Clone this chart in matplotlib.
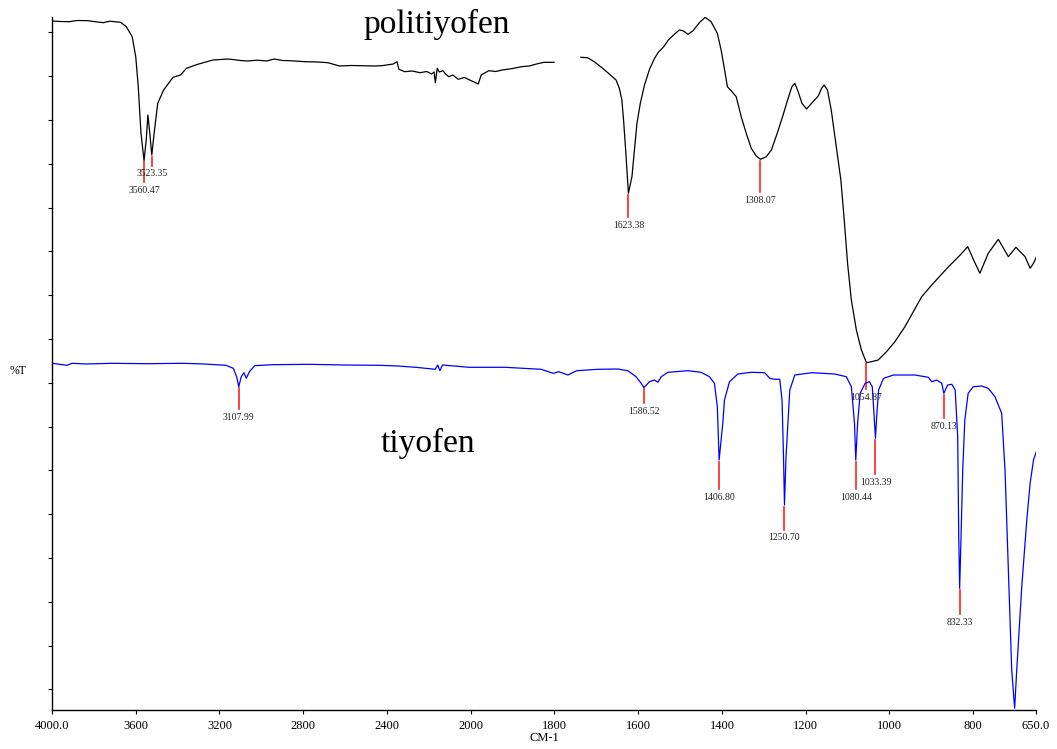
#!/usr/bin/env python3
"""
FTIR spectra: politiyofen (black) vs tiyofen (blue), with peak picks.
"""

import matplotlib
matplotlib.use('Agg')
import matplotlib.pyplot as plt
import numpy as np

# --- politiyofen, first segment (4000 - 1800 cm-1) ---
poly1_wn = [3998, 3960, 3919, 3880, 3828, 3790, 3755, 3725, 3700, 3672, 3645, 3617,
            3600, 3588, 3575, 3560.47, 3550, 3542, 3533, 3523.35, 3512, 3495, 3467,
            3422, 3386, 3358, 3304, 3231, 3158, 3100, 3066, 3020, 2975, 2938, 2900,
            2864, 2791, 2730, 2682, 2627, 2570, 2517, 2460, 2425, 2370, 2352, 2343,
            2315, 2280, 2242, 2210, 2187, 2175, 2169, 2160, 2150, 2133, 2120, 2105,
            2085, 2060, 2030, 2005, 1982, 1975, 1957, 1940, 1925, 1900, 1879, 1860,
            1843, 1825, 1801]
poly1_t = [77.9, 77.85, 77.83, 77.95, 77.93, 77.82, 77.73, 77.88, 77.83, 77.77, 77.33, 76.33,
           74.33, 71.33, 66.7, 63.93, 66.0, 68.5, 66.7, 64.5, 66.7, 69.67, 71.0,
           72.27, 72.5, 73.17, 73.57, 74.0, 74.1, 73.95, 73.9, 73.98, 73.9, 74.1, 73.95,
           73.93, 73.83, 73.8, 73.73, 73.4, 73.45, 73.43, 73.4, 73.43, 73.6, 73.83, 73.07,
           72.83, 72.9, 72.73, 72.85, 72.6, 72.8, 71.73, 73.17, 72.8, 72.93, 72.6, 72.33,
           72.5, 72.07, 72.25, 72.0, 71.6, 72.5, 72.93, 72.85, 73.0, 73.15, 73.33, 73.4,
           73.6, 73.77, 73.77]

# --- politiyofen, second segment (1740 - 650 cm-1) ---
poly2_wn = [1737, 1721, 1705, 1685, 1669, 1653, 1645, 1639, 1635, 1630, 1626, 1623.38,
            1615, 1609, 1603, 1595, 1585, 1573, 1561, 1552, 1539, 1528, 1513, 1502,
            1493, 1481, 1469, 1454, 1440, 1426, 1411, 1402, 1395, 1387, 1376, 1366,
            1354, 1342, 1330, 1318, 1308.07, 1294, 1282, 1268, 1254, 1242, 1233, 1226,
            1218, 1209, 1198, 1186, 1170, 1162, 1156, 1148, 1139, 1127, 1116, 1108,
            1100, 1091, 1079, 1067, 1054.87, 1043, 1027, 1007, 987, 971, 963, 923, 899,
            859, 835, 813, 799, 784, 764, 740, 716, 698, 676, 664, 656, 648]
poly2_t = [74.27, 74.23, 73.83, 73.17, 72.6, 72.0, 71.17, 70.0, 68.0, 65.0, 62.33, 60.67,
           62.33, 65.0, 67.67, 69.67, 71.5, 73.07, 74.17, 74.77, 75.33, 76.0, 76.6, 77.0,
           76.93, 76.57, 76.93, 77.73, 78.27, 77.83, 76.67, 75.0, 73.33, 71.33, 70.83, 70.33,
           68.33, 66.67, 65.17, 64.4, 64.07, 64.33, 65.0, 66.67, 68.5, 70.17, 71.33, 71.67,
           70.83, 69.67, 69.1, 69.67, 70.4, 71.17, 71.5, 71.0, 69.0, 65.33, 62.0, 58.0,
           53.67, 50.0, 47.0, 45.0, 43.73, 43.83, 44.0, 44.83, 45.83, 46.83, 47.33, 50.33, 51.5,
           53.33, 54.33, 55.33, 54.0, 52.67, 54.67, 56.07, 54.33, 55.27, 54.33, 53.17, 53.67, 54.4]

# --- tiyofen ---
thio_wn = [3998, 3929, 3904, 3837, 3718, 3545, 3373, 3273, 3169, 3134, 3118, 3107.99,
           3096, 3083, 3072, 3057, 3032, 2947, 2776, 2605, 2435, 2349, 2263, 2169, 2158,
           2147, 2135, 2007, 1918, 1832, 1803, 1790, 1768, 1747, 1696, 1649, 1625, 1605,
           1593, 1586.52, 1573, 1561, 1553, 1545, 1529, 1481, 1450, 1430, 1418, 1411,
           1406.80, 1398, 1394, 1382, 1362, 1330, 1298, 1286, 1274, 1262, 1256.5, 1253,
           1250.70, 1247, 1238, 1226, 1186, 1131, 1103, 1091, 1083.5, 1080.44, 1076, 1070,
           1058, 1048, 1041, 1037, 1033.39, 1030, 1026, 1014, 990, 939, 907, 899, 887,
           875, 870.13, 861, 851, 843, 837, 834.5, 832.33, 829, 825, 820, 812, 800, 780,
           764, 748, 740, 732, 724, 716, 708, 701, 696, 684, 672, 664, 656, 648]
thio_t = [43.67, 43.47, 43.67, 43.6, 43.67, 43.63, 43.67, 43.6, 43.47, 43.17, 42.33, 41.33,
          42.33, 42.73, 42.17, 42.83, 43.43, 43.53, 43.57, 43.5, 43.47, 43.4, 43.27, 43.07, 43.5,
          42.93, 43.5, 43.27, 43.27, 43.07, 42.67, 42.83, 42.5, 42.93, 43.07, 43.1, 42.93, 42.33,
          41.67, 41.23, 41.83, 42.0, 41.77, 42.33, 42.77, 42.93, 42.77, 42.33, 41.67, 39.33,
          34.0, 37.67, 40.0, 41.83, 42.6, 42.77, 42.73, 42.17, 42.07, 42.07, 40.0, 34.33,
          29.5, 34.33, 41.0, 42.5, 42.73, 42.6, 42.33, 41.33, 37.67, 34.0, 37.67, 40.67,
          41.67, 41.83, 41.33, 38.67, 36.17, 38.67, 41.0, 42.17, 42.5, 42.5, 42.27, 41.83, 42.0,
          41.67, 40.67, 41.5, 41.57, 41.0, 36.33, 26.33, 21.17, 26.33, 33.0, 38.0, 40.67, 41.33, 41.4,
          41.17, 40.33, 39.5, 38.67, 33.0, 23.0, 13.0, 9.17, 13.0, 21.33, 28.0, 31.67, 34.0, 35.0]

poly_peaks = [3560.47, 3523.35, 1623.38, 1308.07, 1054.87]
thio_peaks = [3107.99, 1586.52, 1406.80, 1250.70, 1080.44, 1033.39, 870.13, 832.33]

x_ticks = [4000, 3600, 3200, 2800, 2400, 2000, 1800, 1600, 1400, 1200, 1000, 800, 650]
x_ticklabels = ['4000.0', '3600', '3200', '2800', '2400', '2000', '1800', '1600',
                '1400', '1200', '1000', '800', '650.0']

# stick lengths under each peak pick (layout only)
poly_stick = [2.0, 0.9, 2.2, 3.1, 2.5]
thio_stick = [2.1, 1.4, 2.7, 2.3, 2.7, 3.4, 2.3, 2.4]


def fwd(w):
    # instrument scale: expanded 2x below 2000 cm-1
    w = np.asarray(w, dtype=float)
    return np.where(w >= 2000, w, 2 * w - 2000)


def inv(u):
    u = np.asarray(u, dtype=float)
    return np.where(u >= 2000, u, (u + 2000) / 2)


def peak_value(peak, wn, t):
    order = np.argsort(wn)
    return np.interp(peak, np.asarray(wn)[order], np.asarray(t)[order])


def mark_peaks(ax, peaks, sticks, wn, t):
    for p, s in zip(peaks, sticks):
        top = peak_value(p, wn, t) - 0.15
        ax.plot([p, p], [top, top - s], color='#ff2020', lw=1.2, zorder=1)
        ax.text(p, top - s - 0.85, f'{p:.2f}', ha='center', va='center',
                fontsize=7, color='#222222')


plt.rcParams['font.family'] = ['Liberation Serif', 'DejaVu Serif']

fig = plt.figure(figsize=(10.57, 7.49), dpi=100)
ax = fig.add_axes([52 / 1057, 39 / 749, (1036 - 52) / 1057, (710 - 17) / 749])

ax.set_xscale('function', functions=(fwd, inv))
ax.set_xlim(4000, 650)
ax.set_ylim(9.0, 78.3)

poly_wn = poly1_wn + [np.nan] + poly2_wn
poly_t = poly1_t + [np.nan] + poly2_t
ax.plot(poly_wn, poly_t, color='black', lw=0.9, zorder=2)
ax.plot(thio_wn, thio_t, color='#0000ff', lw=0.9, zorder=2)

mark_peaks(ax, poly_peaks, poly_stick, poly1_wn + poly2_wn, poly1_t + poly2_t)
mark_peaks(ax, thio_peaks, thio_stick, thio_wn, thio_t)

ax.set_xticks(x_ticks)
ax.set_xticklabels(x_ticklabels, fontsize=9)
ax.xaxis.set_minor_locator(plt.NullLocator())
ax.set_yticks(np.arange(11.07, 78, 4.38))
ax.set_yticklabels([])
ax.tick_params(axis='x', direction='out', length=3, width=0.8, pad=4)
ax.tick_params(axis='y', direction='out', length=3, width=0.8)
ax.spines['top'].set_visible(False)
ax.spines['right'].set_visible(False)
ax.spines['left'].set_linewidth(1.0)
ax.spines['bottom'].set_linewidth(1.0)
ax.set_xlabel('CM-1', fontsize=9, labelpad=0)

fig.text(18 / 1057, 1 - 371 / 749, '%T', fontsize=8.5, va='center', ha='center')
fig.text(437 / 1057, 1 - 24 / 749, 'politiyofen', fontsize=24, ha='center', va='center')
fig.text(428 / 1057, 1 - 443 / 749, 'tiyofen', fontsize=24, ha='center', va='center')

fig.savefig('out.png', dpi=100, facecolor='white')
plt.close(fig)
